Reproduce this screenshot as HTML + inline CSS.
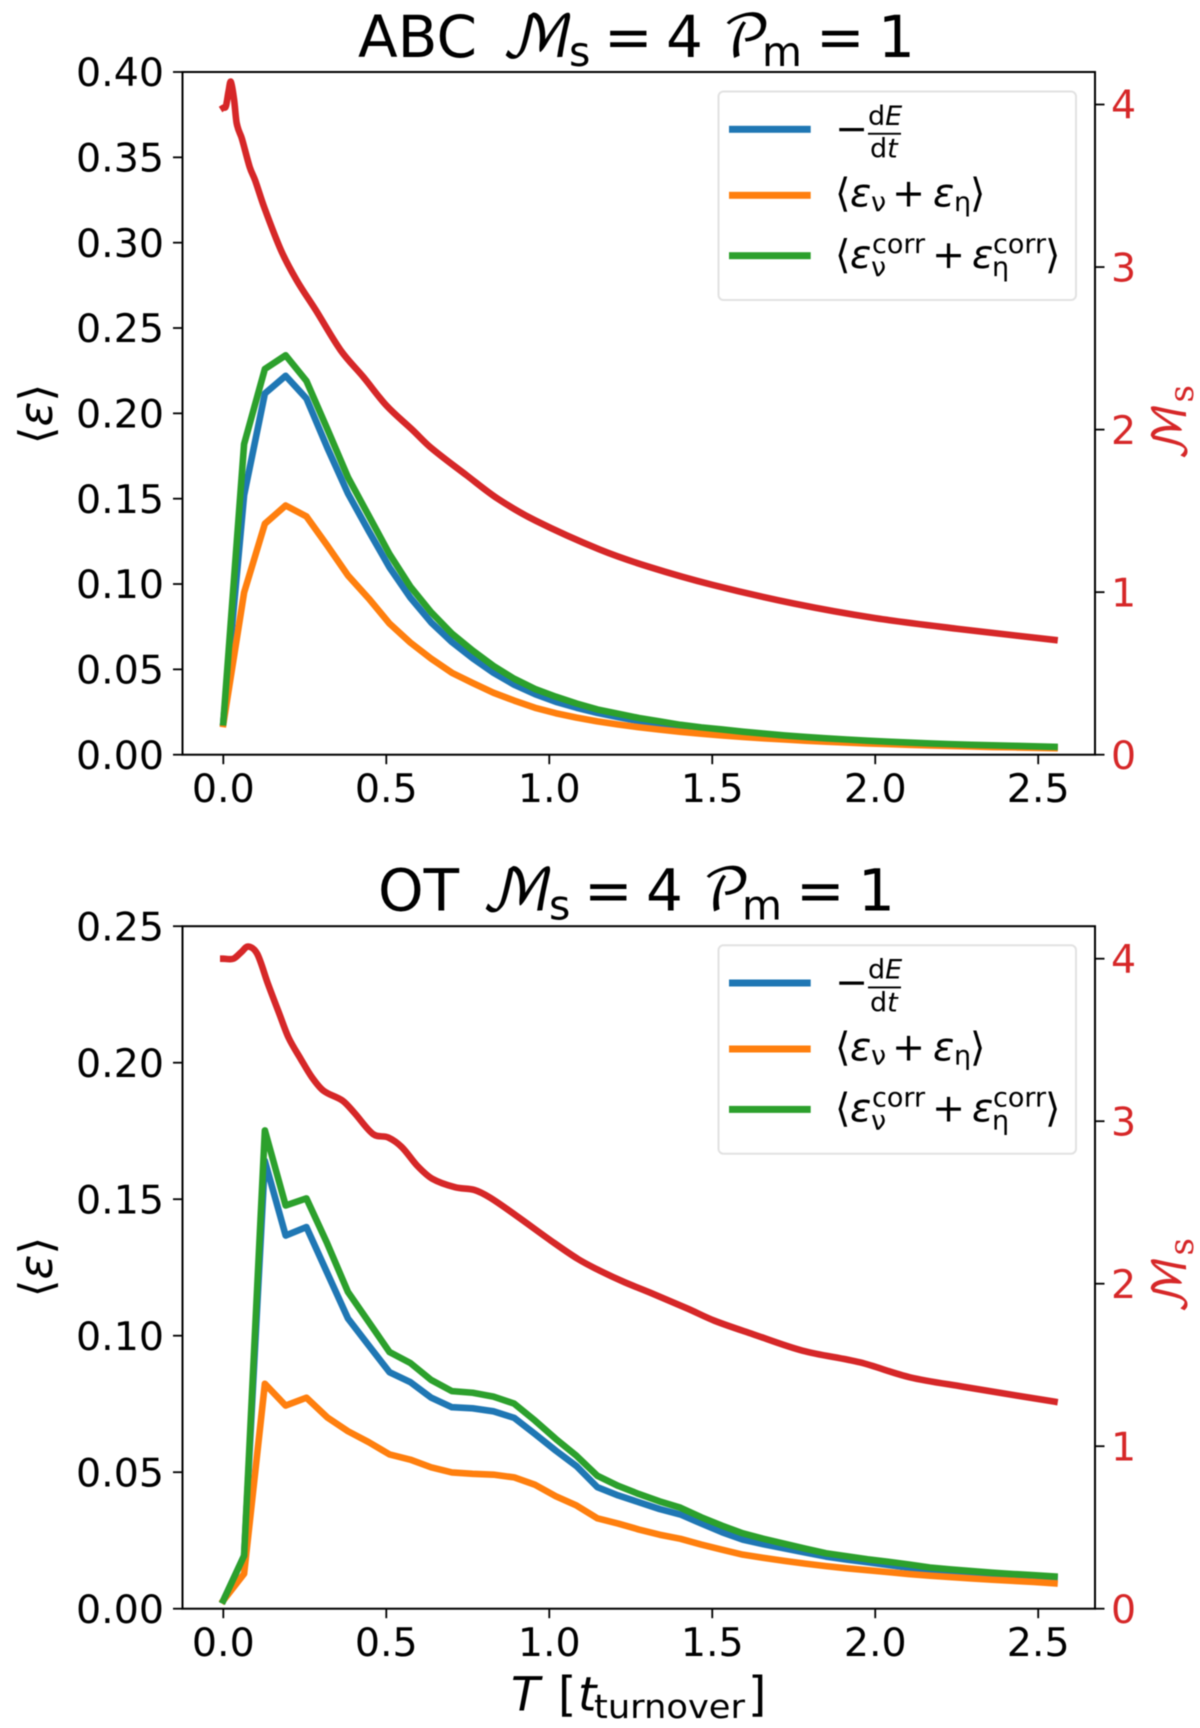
<!DOCTYPE html>
<html>
<head>
<meta charset="utf-8">
<title>Energy dissipation vs time</title>
<style>
html,body{margin:0;padding:0;background:#fff;}
svg{display:block;filter:blur(0.4px);}
text{font-family:"DejaVu Sans","Liberation Sans",sans-serif;fill:#000;}
.ob{font-style:italic;}
.math{font-family:"DejaVu Math TeX Gyre","DejaVu Sans",sans-serif;}
.red{fill:#d62728;}
.leg{font-size:39.5px;}
.sub{font-size:27px;}
</style>
</head>
<body>
<svg id="fig" xmlns="http://www.w3.org/2000/svg" width="1200" height="1728" viewBox="0 0 1200 1728">
  <rect width="1200" height="1728" fill="#fff"/>

  <g id="panel-top"></g>
  <g id="panel-bottom"></g>

  <g>
    <text x="358" y="57" font-size="58">ABC</text>
    <text class="math" x="501" y="57" font-size="58">ℳ</text>
    <text x="569" y="66" font-size="41">s</text>
    <text x="604" y="57" font-size="58">=</text>
    <text x="666" y="57" font-size="58">4</text>
    <text class="math" x="722" y="57" font-size="58">𝒫</text>
    <text x="762" y="66" font-size="41">m</text>
    <text x="816" y="57" font-size="58">=</text>
    <text x="878" y="57" font-size="58">1</text>
  </g>
  <g>
    <text x="378" y="910.7" font-size="58">OT</text>
    <text class="math" x="481" y="910.7" font-size="58">ℳ</text>
    <text x="549" y="919.7" font-size="41">s</text>
    <text x="584" y="910.7" font-size="58">=</text>
    <text x="646" y="910.7" font-size="58">4</text>
    <text class="math" x="702" y="910.7" font-size="58">𝒫</text>
    <text x="742" y="919.7" font-size="41">m</text>
    <text x="796" y="910.7" font-size="58">=</text>
    <text x="858" y="910.7" font-size="58">1</text>
  </g>

  <g transform="translate(52,414) rotate(-90)">
    <text text-anchor="middle" font-size="46">⟨<tspan class="ob">ε</tspan>⟩</text>
  </g>
  <g transform="translate(52,1267) rotate(-90)">
    <text text-anchor="middle" font-size="46">⟨<tspan class="ob">ε</tspan>⟩</text>
  </g>
  <g transform="translate(1186,423) rotate(-90)">
    <text class="red math" text-anchor="middle" font-size="46">ℳ<tspan font-size="34" dy="7">s</tspan></text>
  </g>
  <g transform="translate(1186,1276) rotate(-90)">
    <text class="red math" text-anchor="middle" font-size="46">ℳ<tspan font-size="34" dy="7">s</tspan></text>
  </g>

  <g>
    <text class="ob" x="511" y="1710.7" font-size="47">T</text>
    <text x="558" y="1710.7" font-size="47">[</text>
    <text class="ob" x="578" y="1710.7" font-size="47">t</text>
    <text x="594" y="1718" font-size="33" textLength="151" lengthAdjust="spacingAndGlyphs">turnover</text>
    <text x="748" y="1710.7" font-size="47">]</text>
  </g>

  <g id="legend-top">
    <rect x="718.5" y="91.5" width="357.5" height="208.5" rx="5" fill="#fff" fill-opacity="0.8" stroke="#e2e2e2" stroke-width="2"/>
    <g>
      <rect x="729" y="125.8" width="81.7" height="7" fill="#1f77b4"/>
      <text x="835" y="142" class="leg">−</text>
      <text x="868" y="125" class="sub">d<tspan class="ob">E</tspan></text>
      <rect x="868" y="132.8" width="33" height="1.9" fill="#000"/>
      <text x="870" y="157.7" class="sub">d<tspan class="ob">t</tspan></text>
    </g>
    <g>
      <rect x="729" y="191.8" width="81.7" height="7" fill="#ff7f0e"/>
      <text x="835" y="206.7" class="leg">⟨</text>
      <text x="850" y="206.7" class="leg ob">ε</text>
      <text x="871" y="211" class="sub">ν</text>
      <text x="892" y="206.7" class="leg">+</text>
      <text x="933" y="206.7" class="leg ob">ε</text>
      <text x="954" y="211" class="sub">η</text>
      <text x="970" y="206.7" class="leg">⟩</text>
    </g>
    <g>
      <rect x="729" y="252.2" width="81.7" height="7" fill="#2ca02c"/>
      <text x="835" y="268" class="leg">⟨</text>
      <text x="850" y="268" class="leg ob">ε</text>
      <text x="872" y="253" class="sub">corr</text>
      <text x="871" y="276" class="sub">ν</text>
      <text x="932" y="268" class="leg">+</text>
      <text x="972" y="268" class="leg ob">ε</text>
      <text x="993" y="253" class="sub">corr</text>
      <text x="992" y="276" class="sub">η</text>
      <text x="1045" y="268" class="leg">⟩</text>
    </g>
  </g>

  <g id="legend-bottom" transform="translate(0,853.7)">
    <rect x="718.5" y="91.5" width="357.5" height="208.5" rx="5" fill="#fff" fill-opacity="0.8" stroke="#e2e2e2" stroke-width="2"/>
    <g>
      <rect x="729" y="125.8" width="81.7" height="7" fill="#1f77b4"/>
      <text x="835" y="142" class="leg">−</text>
      <text x="868" y="125" class="sub">d<tspan class="ob">E</tspan></text>
      <rect x="868" y="132.8" width="33" height="1.9" fill="#000"/>
      <text x="870" y="157.7" class="sub">d<tspan class="ob">t</tspan></text>
    </g>
    <g>
      <rect x="729" y="191.8" width="81.7" height="7" fill="#ff7f0e"/>
      <text x="835" y="206.7" class="leg">⟨</text>
      <text x="850" y="206.7" class="leg ob">ε</text>
      <text x="871" y="211" class="sub">ν</text>
      <text x="892" y="206.7" class="leg">+</text>
      <text x="933" y="206.7" class="leg ob">ε</text>
      <text x="954" y="211" class="sub">η</text>
      <text x="970" y="206.7" class="leg">⟩</text>
    </g>
    <g>
      <rect x="729" y="252.2" width="81.7" height="7" fill="#2ca02c"/>
      <text x="835" y="268" class="leg">⟨</text>
      <text x="850" y="268" class="leg ob">ε</text>
      <text x="872" y="253" class="sub">corr</text>
      <text x="871" y="276" class="sub">ν</text>
      <text x="932" y="268" class="leg">+</text>
      <text x="972" y="268" class="leg ob">ε</text>
      <text x="993" y="253" class="sub">corr</text>
      <text x="992" y="276" class="sub">η</text>
      <text x="1045" y="268" class="leg">⟩</text>
    </g>
  </g>
</svg>

<script>
// Shared sampling interval of the dissipation curves (41 samples)
const timeStep = 0.06375;
const xTickLabels = ['0.0', '0.5', '1.0', '1.5', '2.0', '2.5'];
const rightTickLabels = ['0', '1', '2', '3', '4'];
const abcYTickLabels = ['0.00', '0.05', '0.10', '0.15', '0.20', '0.25', '0.30', '0.35', '0.40'];
const otYTickLabels = ['0.00', '0.05', '0.10', '0.15', '0.20', '0.25'];

// ABC panel series
const abcBlue = [.019,.152,.2116,.222,.2087,.18,.153,.131,.1097,.092,.0775,.066,.0565,.048,.041,.0355,.031,.0275,.0245,.022,.0197,.0178,.0161,.0147,.0135,.0124,.0113,.0104,.0095,.0088,.0081,.0075,.007,.0065,.006,.0056,.0053,.005,.0047,.0044,.0042];
const abcOrange = [.018,.095,.1353,.146,.1396,.1226,.105,.0915,.0768,.0657,.0563,.048,.042,.0363,.0317,.0275,.0243,.0217,.0195,.0177,.0161,.0147,.0134,.0123,.0113,.0104,.0096,.0089,.0082,.0076,.0071,.0066,.0062,.0058,.0054,.0051,.0048,.0045,.0043,.004,.0038];
const abcGreen = [.019,.182,.226,.234,.219,.191,.1625,.14,.1175,.0985,.0835,.071,.061,.052,.0445,.0385,.034,.03,.0265,.024,.0215,.0195,.0175,.016,.0148,.0135,.0124,.0113,.0104,.0096,.0089,.0082,.0076,.0071,.0066,.0062,.0058,.0055,.0052,.0049,.0046];
const abcMachTime = [0,.008,.016,.023,.033,.041,.057,.081,.0975,.125,.177,.225,.284,.36,.43,.5,.582,.635,.747,.841,.958,1.155,1.307,1.5,1.75,2,2.25,2.55];
const abcMach = [3.98,3.99,4.08,4.14,4.03,3.885,3.79,3.615,3.534,3.37,3.103,2.919,2.734,2.488,2.323,2.149,1.995,1.892,1.718,1.576,1.44,1.262,1.155,1.045,.93,.84,.775,.706];

// OT panel series
const otBlue = [.003,.0194,.164,.1367,.1398,.123,.1063,.0964,.0866,.083,.0773,.0738,.0734,.0723,.0699,.064,.0579,.0522,.0445,.0415,.039,.0365,.0345,.0312,.028,.0253,.0236,.0221,.0206,.0191,.018,.017,.016,.015,.0142,.0135,.0129,.0124,.0119,.0115,.0112];
const otOrange = [.003,.0128,.0824,.0744,.0773,.0701,.065,.061,.0565,.0546,.0518,.0499,.0494,.0491,.0481,.0454,.0412,.0378,.0331,.0312,.029,.0271,.0256,.0235,.0216,.0198,.0186,.0175,.0165,.0156,.0148,.0141,.0134,.0127,.0121,.0116,.0111,.0106,.0102,.0098,.0093];
const otGreen = [.003,.0194,.1752,.1477,.1503,.1338,.116,.105,.094,.09,.0838,.0797,.0791,.0777,.0751,.0689,.0622,.056,.0487,.045,.042,.0393,.037,.0335,.0304,.0276,.0256,.0238,.022,.0203,.0192,.0181,.0172,.0162,.0151,.0144,.0138,.0132,.0127,.0123,.0118];
const otMachTime = [0,.031,.055,.076,.104,.137,.172,.2,.237,.272,.307,.366,.401,.46,.506,.548,.595,.641,.712,.77,.818,.9,1.005,1.088,1.155,1.23,1.308,1.425,1.507,1.624,1.777,1.953,2.106,2.27,2.55];
const otMach = [4,4,4.04,4.075,4.03,3.845,3.66,3.515,3.385,3.27,3.188,3.126,3.054,2.92,2.9,2.84,2.726,2.646,2.593,2.577,2.53,2.417,2.265,2.152,2.08,2.01,1.946,1.846,1.772,1.69,1.588,1.516,1.424,1.366,1.274];

const SVGNS = 'http://www.w3.org/2000/svg';
const LEFT = 182.5, RIGHT = 1095;
const xDomainMin = -0.1252, xDomainMax = 2.6742;

function xScale(t) {
  return LEFT + (t - xDomainMin) / (xDomainMax - xDomainMin) * (RIGHT - LEFT);
}
function linear(dMax, top, bottom) {
  return function (v) { return bottom - v / dMax * (bottom - top); };
}
function make(tag, attrs, parent) {
  const el = document.createElementNS(SVGNS, tag);
  for (const k in attrs) el.setAttribute(k, attrs[k]);
  parent.appendChild(el);
  return el;
}
function pathFrom(ts, vs, yScale) {
  return vs.map(function (v, i) {
    return (i ? 'L' : 'M') + xScale(ts[i]).toFixed(2) + ' ' + yScale(v).toFixed(2);
  }).join('');
}
// Smooth curve through the read points (finite-difference tangents)
function smoothPathFrom(ts, vs, yScale) {
  const px = ts.map(xScale);
  const py = vs.map(yScale);
  const n = px.length;
  function slope(i) {
    const a = Math.max(0, i - 1), b = Math.min(n - 1, i + 1);
    return (py[b] - py[a]) / (px[b] - px[a]);
  }
  let d = 'M' + px[0].toFixed(2) + ' ' + py[0].toFixed(2);
  for (let i = 0; i < n - 1; i++) {
    const h = (px[i + 1] - px[i]) / 3;
    d += 'C' + (px[i] + h).toFixed(2) + ' ' + (py[i] + slope(i) * h).toFixed(2) + ' ' +
         (px[i + 1] - h).toFixed(2) + ' ' + (py[i + 1] - slope(i + 1) * h).toFixed(2) + ' ' +
         px[i + 1].toFixed(2) + ' ' + py[i + 1].toFixed(2);
  }
  return d;
}
function drawSeries(parent, d, color, name) {
  const el = make('path', {d: d, fill: 'none', stroke: color, 'stroke-width': 6.6, 'stroke-linecap': 'square', 'stroke-linejoin': 'round'}, parent);
  
  
}

function renderPanel(parent, top, bottom, yMax, yLabels, blue, orange, green, machT, mach, prefix) {
  const yScale = linear(yMax, top, bottom);
  const machScale = linear(4.2, top, bottom);
  const times = blue.map(function (_, i) { return i * timeStep; });

  drawSeries(parent, pathFrom(times, blue, yScale), '#1f77b4', prefix + '-energy-rate-line');
  drawSeries(parent, pathFrom(times, orange, yScale), '#ff7f0e', prefix + '-dissipation-line');
  drawSeries(parent, pathFrom(times, green, yScale), '#2ca02c', prefix + '-corrected-dissipation-line');
  drawSeries(parent, smoothPathFrom(machT, mach, machScale), '#d62728', prefix + '-mach-line');

  const frame = make('rect', {x: LEFT, y: top, width: RIGHT - LEFT, height: bottom - top, fill: 'none', stroke: '#000', 'stroke-width': 2}, parent);
  
  

  xTickLabels.forEach(function (label) {
    const x = xScale(parseFloat(label));
    const tick = make('line', {x1: x, x2: x, y1: bottom, y2: bottom + 9.5, stroke: '#000', 'stroke-width': 1.8}, parent);
    
    
    const txt = make('text', {x: x, y: bottom + 47.4, 'text-anchor': 'middle', 'font-size': 39.5}, parent);
    txt.textContent = label;
    
    
  });

  yLabels.forEach(function (label) {
    const y = yScale(parseFloat(label));
    const tick = make('line', {x1: LEFT - 9.5, x2: LEFT, y1: y, y2: y, stroke: '#000', 'stroke-width': 1.8}, parent);
    
    
    const txt = make('text', {x: 164, y: y + 14.2, 'text-anchor': 'end', 'font-size': 39.5}, parent);
    txt.textContent = label;
    
    
  });

  rightTickLabels.forEach(function (label) {
    const y = machScale(parseFloat(label));
    const tick = make('line', {x1: RIGHT, x2: RIGHT + 9.5, y1: y, y2: y, stroke: '#000', 'stroke-width': 1.8}, parent);
    
    
    const txt = make('text', {x: 1111, y: y + 14.2, 'font-size': 39.5, 'class': 'red'}, parent);
    txt.textContent = label;
    
    
  });
}

renderPanel(document.getElementById('panel-top'), 72, 754.7, 0.40, abcYTickLabels, abcBlue, abcOrange, abcGreen, abcMachTime, abcMach, 'abc');
renderPanel(document.getElementById('panel-bottom'), 926.2, 1608.7, 0.25, otYTickLabels, otBlue, otOrange, otGreen, otMachTime, otMach, 'ot');
</script>
</body>
</html>
